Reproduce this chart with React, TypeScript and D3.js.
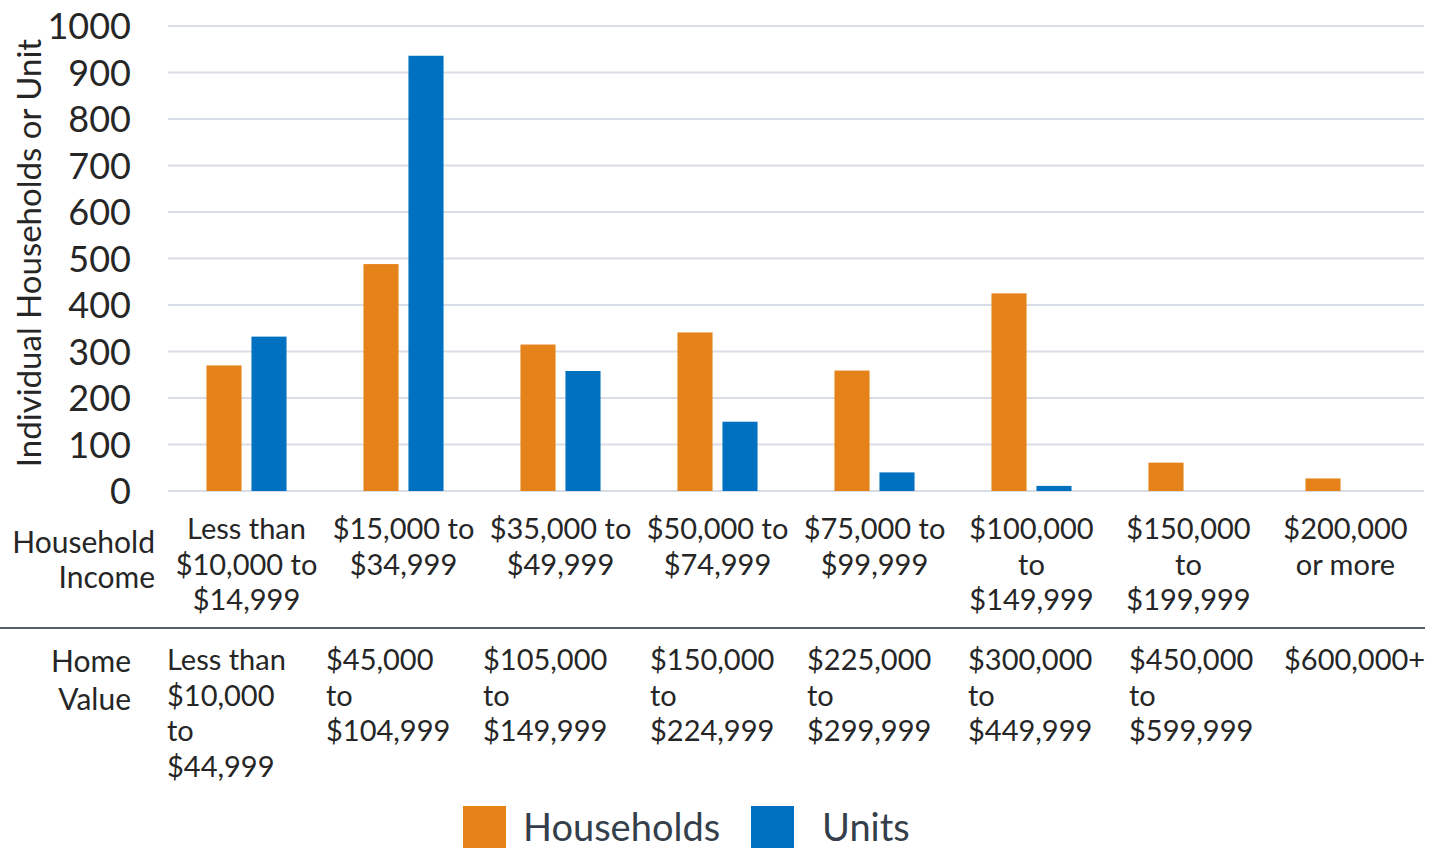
import * as d3 from "d3";

const incomeLabels = [
  ["Less than", "$10,000 to", "$14,999"],
  ["$15,000 to", "$34,999"],
  ["$35,000 to", "$49,999"],
  ["$50,000 to", "$74,999"],
  ["$75,000 to", "$99,999"],
  ["$100,000", "to", "$149,999"],
  ["$150,000", "to", "$199,999"],
  ["$200,000", "or more"],
];

const homeValueLabels = [
  ["Less than", "$10,000", "to", "$44,999"],
  ["$45,000", "to", "$104,999"],
  ["$105,000", "to", "$149,999"],
  ["$150,000", "to", "$224,999"],
  ["$225,000", "to", "$299,999"],
  ["$300,000", "to", "$449,999"],
  ["$450,000", "to", "$599,999"],
  ["$600,000+"],
];

const households = [270, 488, 315, 341, 259, 425, 61, 27];
const units = [332, 936, 258, 149, 40, 11, 0, 0];

const seriesNames = ["Households", "Units"];
const seriesColors = ["#E5821A", "#0070C0"];

const yTicks = [0, 100, 200, 300, 400, 500, 600, 700, 800, 900, 1000];

const width = 1442;
const height = 848;
const margin = { top: 26, right: 18, bottom: 357, left: 168 };
const font = "Lato, 'Noto Sans', sans-serif";

// small nudges so the home value column lines up like the original table
const homeNudge = [-1, 1, 1, 11, 11, 15, 19, 17];

export default function App() {
  const categories = incomeLabels.map((l) => l.join(" "));
  const plotBottom = height - margin.bottom;

  const x0 = d3
    .scaleBand()
    .domain(categories)
    .range([margin.left, width - margin.right])
    .padding(0);

  const bw = x0.bandwidth();

  const x1 = d3
    .scaleBand()
    .domain(seriesNames)
    .range([bw * 0.245, bw * 0.755])
    .paddingInner(0.22);

  const y = d3
    .scaleLinear()
    .domain([0, 1000])
    .range([plotBottom, margin.top]);

  const values = [households, units];

  return (
    <svg
      width={width}
      height={height}
      style={{ position: "absolute", left: 0, top: 0, background: "#fff" }}
      fontFamily={font}
    >
      {yTicks.map((t) => (
        <g key={t}>
          <line
            x1={margin.left}
            x2={width - margin.right}
            y1={y(t)}
            y2={y(t)}
            stroke="#d9dee6"
            strokeWidth={2}
          />
          <text
            x={131}
            y={y(t) + 13}
            textAnchor="end"
            fontSize={36}
            fill="#262626"
          >
            {t}
          </text>
        </g>
      ))}

      <text
        transform="translate(41, 253) rotate(-90)"
        textAnchor="middle"
        fontSize={33}
        fill="#262626"
      >
        Individual Households or Unit
      </text>

      {categories.map((c, i) => (
        <g key={c} transform={`translate(${x0(c)}, 0)`}>
          {seriesNames.map((s, k) => {
            const v = values[k][i];
            if (!v) return null;
            return (
              <rect
                key={s}
                x={x1(s)}
                y={y(v)}
                width={x1.bandwidth()}
                height={plotBottom - y(v)}
                fill={seriesColors[k]}
              />
            );
          })}
        </g>
      ))}

      <text fontSize={30} fill="#262626" textAnchor="end">
        <tspan x={155} y={553}>Household</tspan>
        <tspan x={155} y={588}>Income</tspan>
      </text>

      {categories.map((c, i) => (
        <text
          key={c}
          textAnchor="middle"
          fontSize={29}
          fill="#262626"
        >
          {incomeLabels[i].map((line, j) => (
            <tspan key={j} x={(x0(c) ?? 0) + bw / 2} y={539 + j * 35.5}>
              {line}
            </tspan>
          ))}
        </text>
      ))}

      <line x1={0} x2={1425} y1={628} y2={628} stroke="#1f2d3d" strokeWidth={1.5} />

      <text fontSize={30} fill="#262626" textAnchor="end">
        <tspan x={131} y={672}>Home</tspan>
        <tspan x={131} y={710}>Value</tspan>
      </text>

      {categories.map((c, i) => (
        <text key={c} fontSize={29} fill="#262626">
          {homeValueLabels[i].map((line, j) => (
            <tspan key={j} x={(x0(c) ?? 0) + homeNudge[i]} y={670 + j * 35.5}>
              {line}
            </tspan>
          ))}
        </text>
      ))}

      {seriesNames.map((s, k) => {
        const lx = [463, 751][k];
        return (
          <g key={s}>
            <rect x={lx} y={806} width={43} height={42} fill={seriesColors[k]} />
            <text
              x={lx + (k === 0 ? 60 : 71)}
              y={841}
              fontSize={38}
              fill="#353f4b"
            >
              {s}
            </text>
          </g>
        );
      })}
    </svg>
  );
}
